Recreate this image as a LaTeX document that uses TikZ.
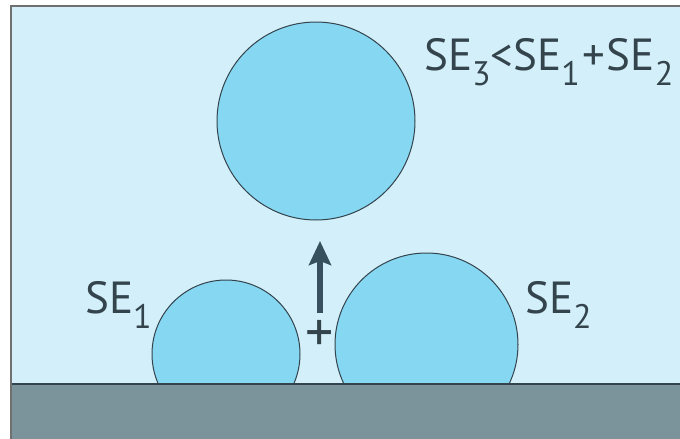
\documentclass[tikz,border=0pt]{standalone}
\usepackage{fontspec}
\setmainfont{PT Sans}
\usetikzlibrary{
	arrows.meta,
	positioning
}
\definecolor{bgblue}{HTML}{D3EFFA}
\definecolor{dropblue}{HTML}{86D7F2}
\definecolor{dropline}{HTML}{33444D}
\definecolor{substrate}{HTML}{7B949C}
\definecolor{risecol}{HTML}{37505D}
\definecolor{framegray}{HTML}{707070}
\newcommand{\lowsub}[1]{\raisebox{-0.34em}{\fontsize{34}{34}\selectfont #1}}

\begin{document}
\begin{tikzpicture}[
			x=1pt, y=-1pt,
			font=\fontsize{45}{48}\selectfont,
			drop/.style={circle, draw=dropline, line width=1pt, fill=dropblue, inner sep=0pt},
			lbl/.style={anchor=base west, inner sep=0pt, text=dropline},
			>=Stealth,
			rise/.style={->, draw=risecol, line width=6pt, arrows={-Stealth[length=24pt, width=22pt, inset=4pt]}}
		]
		\useasboundingbox (0,0) rectangle (680,439);

		\fill[bgblue] (11,6) rectangle (700,460);

		\begin{scope}
			\clip (0,0) rectangle (700,384);
			\node[drop, minimum size=148pt] (se1) at (226,354) {};
			\node[drop, minimum size=183pt] (se2) at (426.5,344.5) {};
		\end{scope}
		\node[drop, minimum size=198pt] (se3) at (316,121) {};

		\fill[substrate] (11,384) rectangle (700,460);
		\draw[dropline, line width=2pt] (11,384) -- (700,384);
		\draw[framegray, line width=2pt] (11,460) -- (11,6) -- (700,6);

		\node[lbl] (sum) at (424,70) {SE\lowsub{3}<SE\lowsub{1}\kern2pt+\kern2ptSE\lowsub{2}};
		\node[lbl] (lbl1) at (85,313) {SE\lowsub{1}};
		\node[lbl] (lbl2) at (525,313) {SE\lowsub{2}};
		\node[text=dropline, font=\fontsize{56}{56}\selectfont] (plus) at (320,336) {+};

		\coordinate (risebase) at (320,313);
		\coordinate (risetip) at (320,241);
		\draw[rise] (risebase) -- (risetip);
	\end{tikzpicture}
\end{document}
